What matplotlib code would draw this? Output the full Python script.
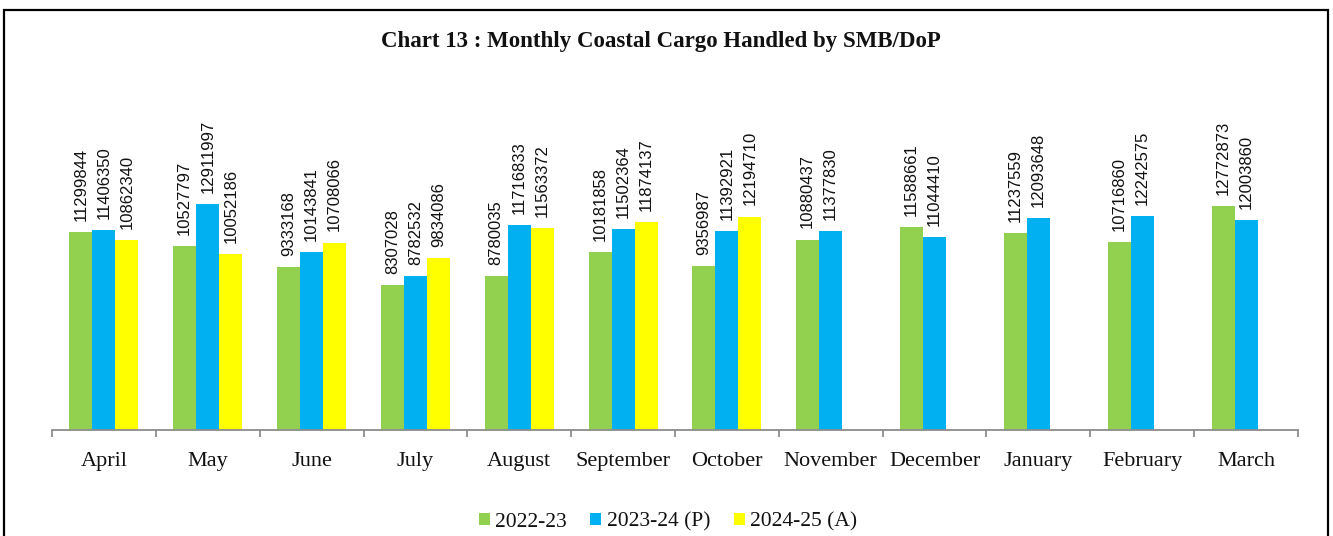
import matplotlib
matplotlib.use("Agg")
import matplotlib.pyplot as plt
from matplotlib.patches import Rectangle, Patch
import numpy as np

months = ["April", "May", "June", "July", "August", "September", "October",
          "November", "December", "January", "February", "March"]
s2223 = [11299844, 10527797, 9333168, 8307028, 8780035, 10181858, 9356987,
         10880437, 11588661, 11237559, 10716860, 12772873]
s2324 = [11406350, 12911997, 10143841, 8782532, 11716833, 11502364, 11392921,
         11377830, 11044410, 12093648, 12242575, 12003860]
s2425 = [10862340, 10052186, 10708066, 9834086, 11563372, 11874137, 12194710]
series_names = ["2022-23", "2023-24 (P)", "2024-25 (A)"]
colors = ["#92D050", "#00B0F0", "#FFFF00"]

W, H = 1333, 536
fig = plt.figure(figsize=(W / 100, H / 100), dpi=100)
fig.patch.set_facecolor("white")

ax_left, ax_right = 52, 1298
ax_bottom_px, ax_top_px = 430, 185
ax = fig.add_axes([ax_left / W, 1 - ax_bottom_px / H,
                   (ax_right - ax_left) / W, (ax_bottom_px - ax_top_px) / H])

x = np.arange(len(months))
bw = 0.222
all_series = [s2223, s2324, s2425]
for i, (vals, col) in enumerate(zip(all_series, colors)):
    xs = x[:len(vals)] + (i - 1) * bw
    ax.bar(xs, vals, width=bw, color=col, edgecolor="none", zorder=2)
    for xi, v in zip(xs, vals):
        ax.annotate(f"{v}", xy=(xi, v), xytext=(0, 8), textcoords="offset points",
                    rotation=90, ha="center", va="bottom", fontsize=12,
                    family="Liberation Sans", color="#111111", clip_on=False)

ax.set_xlim(-0.5, len(months) - 0.5)
ax.set_ylim(0, 14000000)
for sp in ["top", "right", "left"]:
    ax.spines[sp].set_visible(False)
ax.spines["bottom"].set_color("#8c8c8c")
ax.spines["bottom"].set_linewidth(1.3)
ax.set_yticks([])
ax.set_xticks(np.arange(-0.5, len(months), 1.0))
ax.set_xticklabels([])
ax.tick_params(axis="x", which="major", length=5, width=1.3, color="#8c8c8c")
ax.set_xticks(x, minor=True)
ax.set_xticklabels(months, minor=True, family="Liberation Serif", fontsize=16,
                   color="#111111")
ax.tick_params(axis="x", which="minor", length=0, pad=16)

fig.text(660.5 / W, 1 - 41 / H,
         "Chart 13 : Monthly Coastal Cargo Handled by SMB/DoP",
         ha="center", va="center", fontsize=16.5, fontweight="bold",
         family="Liberation Serif", color="#111111")

handles = [Patch(facecolor=c, edgecolor="none") for c in colors]
leg = fig.legend(handles, series_names, loc="center", bbox_to_anchor=(668 / W, 1 - 522 / H),
                 ncol=3, frameon=False, prop={"family": "Liberation Serif", "size": 15.5},
                 handlelength=0.5, handleheight=0.5, handletextpad=0.25,
                 columnspacing=1.1, borderaxespad=0, borderpad=0)
for t in leg.get_texts():
    t.set_color("#111111")

frame = Rectangle((4 / W, -0.1), (1328 - 4) / W, (1 - 10 / H) + 0.1,
                  transform=fig.transFigure, fill=False, edgecolor="black",
                  linewidth=1.6, clip_on=False)
fig.patches.append(frame)

fig.savefig("out.png", dpi=100, facecolor="white")
